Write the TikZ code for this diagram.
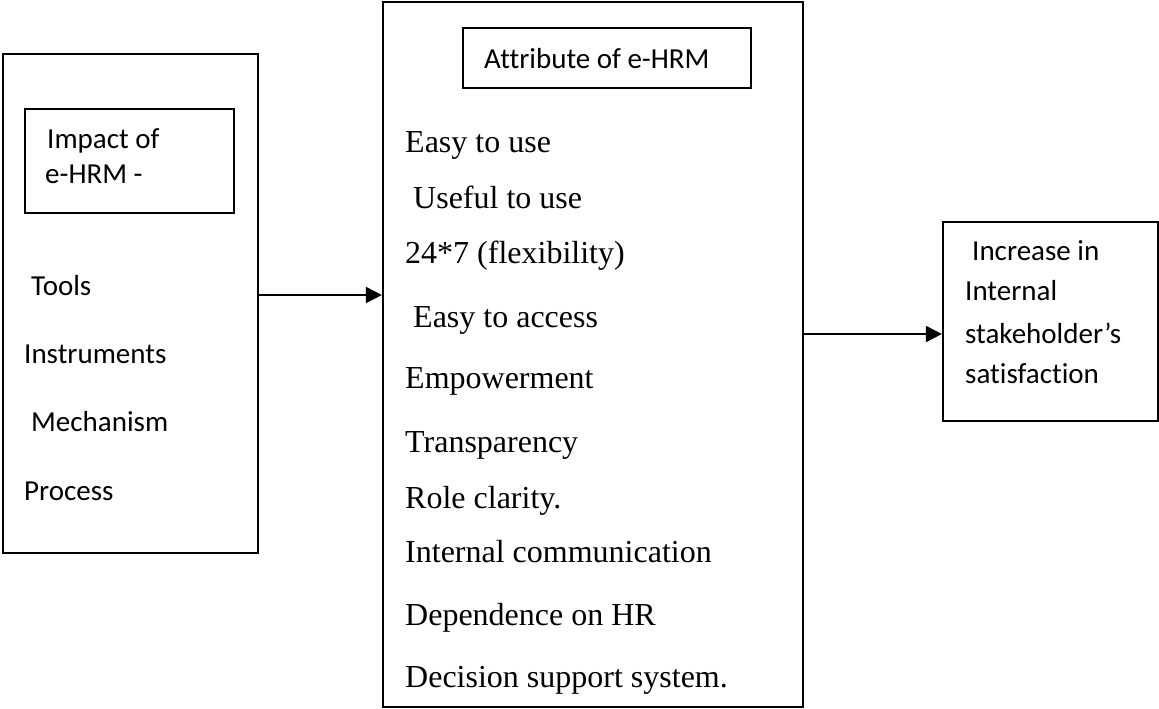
\documentclass[tikz,border=0pt]{standalone}
\usepackage{fontspec}
\setmainfont{Liberation Serif}
\newfontfamily\calfont[Ligatures={NoCommon}]{Carlito}
\usetikzlibrary{arrows.meta}
\tikzset{
  box/.style={draw=black, line width=2.2pt, inner sep=0pt, fill=none},
  ctext/.style={anchor=base west, inner sep=0pt, font=\calfont\fontsize{29}{35}\selectfont},
  ttext/.style={anchor=base west, inner sep=0pt, font=\fontsize{32}{38}\selectfont},
  arr/.style={line width=2pt, -{Triangle[length=16pt,width=16pt]}}
}
\begin{document}
\begin{tikzpicture}[x=1pt,y=-1pt]
\useasboundingbox[fill=white] (0,0) rectangle (1159,709);
% boxes
\node[box, minimum width=255pt, minimum height=499pt] (lbox) at (130.5,303.5) {};
\node[box, minimum width=209pt, minimum height=104pt] (ibox) at (129.5,161) {};
\node[box, minimum width=420pt, minimum height=705pt] (mbox) at (593,354.5) {};
\node[box, minimum width=288pt, minimum height=60pt] (abox) at (607,58) {};
\node[box, minimum width=215pt, minimum height=199pt] (rbox) at (1050.5,321.5) {};
% left texts
\node[ctext] (t1) at (47,148) {Impact of};
\node[ctext] (t2) at (45,183) {e-HRM -};
\node[ctext] (t3) at (31,295) {Tools};
\node[ctext] (t4) at (24,363) {Instruments};
\node[ctext] (t5) at (31,431) {Mechanism};
\node[ctext] (t6) at (24,500) {Process};
% middle texts
\node[ctext] (a0) at (484,68) {Attribute of e-HRM};
\node[ttext] (m1) at (405,152) {Easy to use};
\node[ttext] (m2) at (413,208) {Useful to use};
\node[ttext] (m3) at (405,263) {24*7 (flexibility)};
\node[ttext] (m4) at (413,327) {Easy to access};
\node[ttext] (m5) at (405,388) {Empowerment};
\node[ttext] (m6) at (405,452) {Transparency};
\node[ttext] (m7) at (405,508) {Role clarity.};
\node[ttext] (m8) at (405,562) {Internal communication};
\node[ttext] (m9) at (405,625) {Dependence on HR};
\node[ttext] (m10) at (405,687) {Decision support system.};
% right texts
\node[ctext] (r1) at (972,260) {Increase in};
\node[ctext] (r2) at (965,300) {Internal};
\node[ctext] (r3) at (965,343) {stakeholder’s};
\node[ctext] (r4) at (965,383) {satisfaction};
% arrows
\coordinate (y1) at (0,295);
\coordinate (y2) at (0,334);
\draw[arr] (lbox.east |- y1) -- (mbox.west |- y1);
\draw[arr] (mbox.east |- y2) -- (rbox.west |- y2);
\end{tikzpicture}
\end{document}
